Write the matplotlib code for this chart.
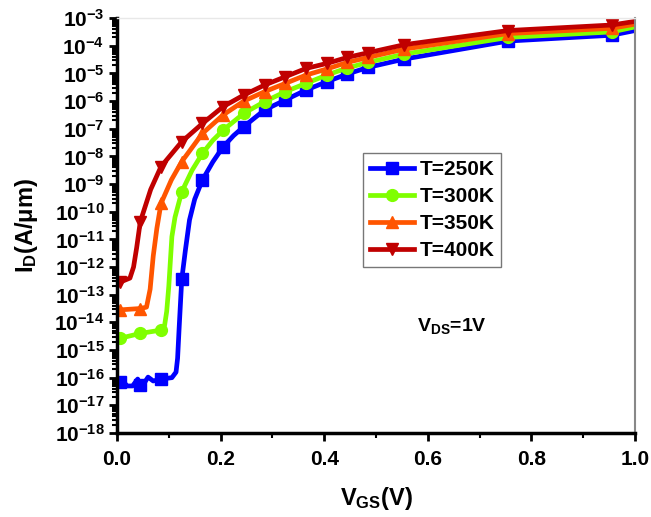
import numpy as np
import matplotlib
matplotlib.use('Agg')
import matplotlib.pyplot as plt
from matplotlib.ticker import FixedLocator, MultipleLocator, NullFormatter

plt.rcParams['font.family'] = ['Liberation Sans', 'DejaVu Sans']
plt.rcParams['font.weight'] = 'bold'
plt.rcParams['mathtext.fontset'] = 'custom'
plt.rcParams['mathtext.rm'] = 'Liberation Sans:bold'
plt.rcParams['mathtext.bf'] = 'Liberation Sans:bold'
plt.rcParams['mathtext.it'] = 'Liberation Sans:bold'
plt.rcParams['mathtext.default'] = 'bf'

# --- data (log10 of I_D in A/um) ---
labels = ['T=250K', 'T=300K', 'T=350K', 'T=400K']
colors = ['#0000FF', '#7FFF00', '#FF5500', '#C00000']
markers = ['s', 'o', '^', 'v']

v_250 = [0.0, 0.005, 0.012, 0.02, 0.03, 0.04, 0.045, 0.05, 0.06, 0.07, 0.085, 0.106,
         0.114, 0.117, 0.12, 0.125, 0.132, 0.14, 0.15, 0.165, 0.185, 0.205, 0.225, 0.245,
         0.285, 0.325, 0.365, 0.405, 0.445, 0.485, 0.555, 0.755, 0.955, 1.0]
log_250 = [-16.1, -16.15, -16.15, -16.3, -16.3, -16.05, -16.27, -16.27, -15.98, -16.12,
           -16.05, -16.0, -15.8, -15.3, -14.2, -12.45, -11.4, -10.3, -9.55, -8.85, -8.2,
           -7.65, -7.25, -6.92, -6.32, -5.96, -5.6, -5.3, -5.02, -4.78, -4.48, -3.83, -3.62, -3.45]
mk_250 = [1, 6, 10, 15, 19, 21, 23, 24, 25, 26, 27, 28, 29, 30, 31, 32]

v_300 = [0.0, 0.005, 0.045, 0.085, 0.092, 0.096, 0.1, 0.106, 0.112, 0.125, 0.145, 0.165,
         0.185, 0.205, 0.245, 0.285, 0.325, 0.365, 0.405, 0.445, 0.485, 0.555, 0.755, 0.955, 1.0]
log_300 = [-14.6, -14.58, -14.4, -14.28, -14.1, -13.6, -12.7, -10.9, -10.2, -9.28,
           -8.5, -7.89, -7.42, -7.05, -6.44, -6.02, -5.66, -5.36, -5.06, -4.8, -4.6, -4.3,
           -3.7, -3.5, -3.32]
mk_300 = [1, 2, 3, 9, 11, 13, 14, 15, 16, 17, 18, 19, 20, 21, 22, 23]

v_350 = [0.0, 0.005, 0.045, 0.057, 0.064, 0.07, 0.077, 0.085, 0.105, 0.125, 0.165, 0.205,
         0.245, 0.285, 0.325, 0.365, 0.405, 0.445, 0.485, 0.555, 0.755, 0.955, 1.0]
log_350 = [-13.55, -13.55, -13.5, -13.45, -12.8, -11.6, -10.6, -9.7, -8.85, -8.19, -7.17,
           -6.5, -6.0, -5.66, -5.36, -5.06, -4.84, -4.6, -4.42, -4.12, -3.56, -3.37, -3.22]
mk_350 = [1, 2, 7, 9, 10, 11, 12, 13, 14, 15, 16, 17, 18, 19, 20, 21]

v_400 = [0.0, 0.005, 0.012, 0.025, 0.032, 0.038, 0.045, 0.065, 0.085, 0.125, 0.165, 0.205,
         0.245, 0.285, 0.325, 0.365, 0.405, 0.445, 0.485, 0.555, 0.755, 0.955, 1.0]
log_400 = [-12.55, -12.55, -12.5, -12.4, -12.0, -11.3, -10.36, -9.2, -8.37, -7.47, -6.81,
           -6.2, -5.78, -5.42, -5.12, -4.82, -4.64, -4.42, -4.25, -3.96, -3.45, -3.25, -3.12]
mk_400 = [1, 6, 8, 9, 10, 11, 12, 13, 14, 15, 16, 17, 18, 19, 20, 21]

series = [(v_250, log_250, mk_250), (v_300, log_300, mk_300),
          (v_350, log_350, mk_350), (v_400, log_400, mk_400)]

y_exps = list(range(-18, -2))
x_ticks = [0.0, 0.2, 0.4, 0.6, 0.8, 1.0]

fig = plt.figure(figsize=(6.51, 5.17), dpi=100)
ax = fig.add_axes([0.1797, 0.1625, 0.7957, 0.8025])

for (v, lg, mk), lab, c, m in zip(series, labels, colors, markers):
    ax.plot(v, 10.0 ** np.array(lg), color=c, lw=3.4, marker=m, markersize=8.5,
            markevery=mk, label=lab, solid_joinstyle='round')

ax.set_yscale('log')
ax.set_xlim(0.0, 1.0)
ax.set_ylim(1e-18, 1e-3)

ax.yaxis.set_major_locator(FixedLocator([10.0 ** e for e in y_exps]))
ax.set_yticklabels([r'10$^{%d}$' % e for e in y_exps])
ax.yaxis.set_minor_locator(FixedLocator([k * 10.0 ** e for e in y_exps[:-1] for k in range(2, 10)]))
ax.yaxis.set_minor_formatter(NullFormatter())
ax.set_xticks(x_ticks)
ax.set_xticklabels(['%.1f' % t for t in x_ticks])
ax.xaxis.set_minor_locator(MultipleLocator(0.1))

ax.tick_params(which='major', direction='out', length=6, width=2, labelsize=15, pad=3)
ax.tick_params(which='minor', direction='out', length=3.5, width=1.5)
ax.tick_params(axis='x', which='major', pad=6)
ax.tick_params(top=False, right=False)

for s in ['left', 'bottom']:
    ax.spines[s].set_linewidth(2.5)
ax.spines['right'].set_color('#888888')
ax.spines['right'].set_linewidth(1.5)
ax.spines['top'].set_color('#e8e8e8')
ax.spines['top'].set_linewidth(1.0)

ax.set_xlabel(r'V$_{GS}$(V)', fontsize=17, fontweight='bold', labelpad=12)
ax.set_ylabel(r'I$_{D}$(A/μm)', fontsize=17, fontweight='bold', labelpad=10)

ax.text(0.58, 0.245, r'V$_{DS}$=1V', transform=ax.transAxes, fontsize=14,
        fontweight='bold')

leg = ax.legend(loc='upper left', bbox_to_anchor=(0.475, 0.675), fontsize=15,
                frameon=True, fancybox=False, handlelength=2.1, handletextpad=0.25,
                borderpad=0.35, labelspacing=0.38, borderaxespad=0)
leg.get_frame().set_edgecolor('#555555')
leg.get_frame().set_linewidth(1.0)

fig.savefig('out.png', dpi=100)
